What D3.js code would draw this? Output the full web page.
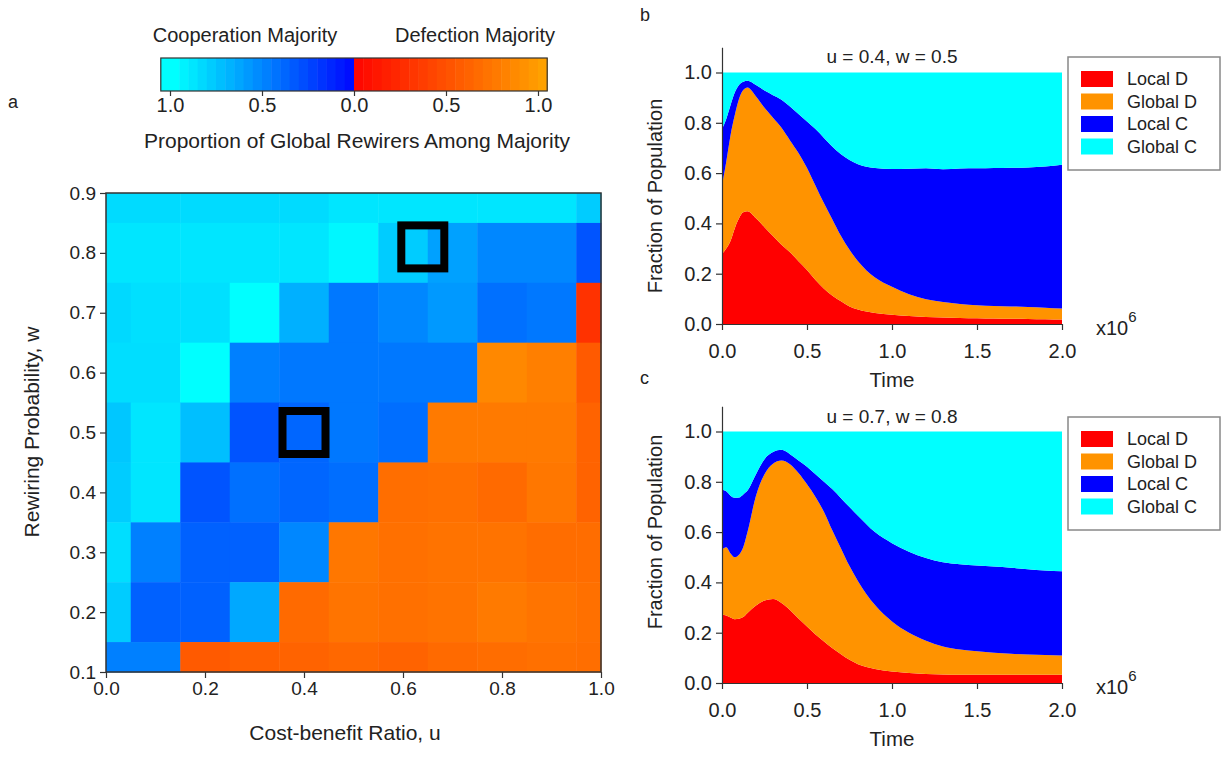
<!DOCTYPE html>
<html>
<head>
<meta charset="utf-8">
<script src="https://cdn.jsdelivr.net/npm/d3@7"></script>
<style>
body { margin: 0; background: #fff; }
svg { display: block; }
</style>
</head>
<body>
<script>
const width = 1231
const height = 761
const font = '"Liberation Sans", Arial, sans-serif'
const ink = '#222'

// ---- panel a: heatmap data ----
const uValues = [0, 0.1, 0.2, 0.3, 0.4, 0.5, 0.6, 0.7, 0.8, 0.9, 1.0]
const wValues = [0.9, 0.8, 0.7, 0.6, 0.5, 0.4, 0.3, 0.2, 0.1]
// proportion of global rewirers among majority; negative = cooperation majority, positive = defection majority
const majorityGrid = [
  [-0.86, -0.86, -0.86, -0.86, -0.86, -0.9, -0.9, -0.9, -0.9, -0.9, -0.8],
  [-0.9, -0.9, -0.9, -0.9, -0.9, -0.97, -0.8, -0.63, -0.53, -0.53, -0.33],
  [-0.85, -0.88, -0.88, -1.0, -0.69, -0.47, -0.53, -0.6, -0.44, -0.47, 0.33],
  [-0.87, -0.87, -1.0, -0.5, -0.47, -0.47, -0.47, -0.47, 0.89, 0.83, 0.59],
  [-0.78, -0.9, -0.75, -0.33, -0.4, -0.47, -0.43, 0.8, 0.8, 0.8, 0.65],
  [-0.8, -0.9, -0.33, -0.44, -0.4, -0.43, 0.72, 0.73, 0.69, 0.78, 0.65],
  [-0.87, -0.5, -0.38, -0.38, -0.53, 0.78, 0.73, 0.75, 0.75, 0.71, 0.71],
  [-0.8, -0.38, -0.38, -0.66, 0.69, 0.76, 0.73, 0.75, 0.8, 0.76, 0.73],
  [-0.5, -0.5, 0.59, 0.63, 0.65, 0.68, 0.65, 0.69, 0.71, 0.73, 0.72]
]
const markedCells = [{u: 0.4, w: 0.5}, {u: 0.64, w: 0.81}]
const colorbarTicks = [-1, -0.5, 0, 0.5, 1]

// ---- panels b, c: stacked fractions ----
const layerNames = ['Local D', 'Global D', 'Local C', 'Global C']
const layerColors = ['#ff0000', '#ff9300', '#0000ff', '#00ffff']
const timeSteps = [0, 0.025, 0.05, 0.075, 0.1, 0.125, 0.15, 0.2, 0.25, 0.3, 0.35, 0.4, 0.45, 0.5, 0.55, 0.6, 0.65, 0.7, 0.75, 0.8, 0.9, 1.0, 1.1, 1.2, 1.3, 1.4, 1.5, 1.6, 1.7, 1.8, 1.9, 2.0]

const localD_b = [0.278, 0.30, 0.33, 0.38, 0.42, 0.444, 0.448, 0.42, 0.385, 0.35, 0.315, 0.285, 0.25, 0.215, 0.175, 0.14, 0.112, 0.09, 0.07, 0.058, 0.044, 0.037, 0.032, 0.028, 0.026, 0.024, 0.023, 0.022, 0.021, 0.02, 0.019, 0.018]
const globalD_b = [0.272, 0.345, 0.42, 0.45, 0.475, 0.486, 0.492, 0.485, 0.475, 0.47, 0.465, 0.445, 0.43, 0.405, 0.375, 0.34, 0.303, 0.26, 0.225, 0.192, 0.141, 0.111, 0.086, 0.07, 0.061, 0.056, 0.052, 0.05, 0.049, 0.048, 0.046, 0.044]
const localC_b = [0.225, 0.17, 0.12, 0.09, 0.055, 0.033, 0.027, 0.045, 0.068, 0.09, 0.112, 0.135, 0.155, 0.185, 0.225, 0.26, 0.29, 0.325, 0.357, 0.385, 0.435, 0.468, 0.499, 0.521, 0.528, 0.538, 0.544, 0.548, 0.551, 0.554, 0.561, 0.571]
const globalC_b = [0.225, 0.185, 0.13, 0.08, 0.05, 0.037, 0.033, 0.05, 0.072, 0.09, 0.108, 0.135, 0.165, 0.195, 0.225, 0.26, 0.295, 0.325, 0.348, 0.365, 0.38, 0.384, 0.383, 0.381, 0.385, 0.382, 0.381, 0.38, 0.379, 0.378, 0.374, 0.367]

const localD_c = [0.272, 0.268, 0.26, 0.253, 0.255, 0.262, 0.278, 0.308, 0.328, 0.334, 0.318, 0.29, 0.256, 0.225, 0.193, 0.165, 0.138, 0.114, 0.092, 0.075, 0.056, 0.046, 0.04, 0.036, 0.034, 0.033, 0.033, 0.033, 0.033, 0.033, 0.033, 0.033]
const globalD_c = [0.258, 0.272, 0.255, 0.247, 0.255, 0.278, 0.322, 0.437, 0.502, 0.538, 0.567, 0.58, 0.579, 0.565, 0.547, 0.515, 0.467, 0.421, 0.373, 0.33, 0.254, 0.199, 0.16, 0.132, 0.111, 0.1, 0.093, 0.087, 0.083, 0.08, 0.078, 0.076]
const localC_c = [0.238, 0.222, 0.23, 0.237, 0.228, 0.21, 0.165, 0.085, 0.06, 0.046, 0.042, 0.04, 0.05, 0.07, 0.09, 0.12, 0.165, 0.2, 0.235, 0.26, 0.29, 0.311, 0.322, 0.329, 0.335, 0.339, 0.341, 0.343, 0.342, 0.339, 0.336, 0.335]
const globalC_c = [0.232, 0.238, 0.255, 0.263, 0.262, 0.25, 0.235, 0.17, 0.11, 0.082, 0.073, 0.09, 0.115, 0.14, 0.17, 0.2, 0.23, 0.265, 0.3, 0.335, 0.4, 0.444, 0.478, 0.503, 0.52, 0.528, 0.533, 0.537, 0.542, 0.548, 0.553, 0.556]

const svg = d3.select('body')
  .append('svg')
  .attr('width', width)
  .attr('height', height)
  .attr('font-family', font)

const coopColor = d3.interpolateRgb('#0000ff', '#00ffff')
const defColor = d3.interpolateRgb('#ff0000', '#ff9900')
const cellColor = v => v < 0 ? coopColor(-v) : defColor(v)

function styleAxis(g, size) {
  g.attr('font-family', font)
  g.selectAll('text').attr('font-size', size).attr('fill', ink)
  g.selectAll('line').attr('stroke', '#333').attr('stroke-width', 1.2)
  g.select('.domain').attr('stroke', '#333').attr('stroke-width', 1.2)
}

function label(text, x, y, size, anchor = 'middle') {
  return svg.append('text').text(text)
    .attr('x', x).attr('y', y)
    .attr('text-anchor', anchor)
    .attr('font-size', size)
    .attr('fill', ink)
}

// ---- colorbar ----
const cbX = d3.scaleLinear().domain([-1, 1]).range([170, 538])
const cbTop = 58, cbBottom = 91
const cbSteps = d3.range(-21, 21).map(i => i * 0.05)

svg.append('g').selectAll('rect')
  .data(cbSteps)
  .join('rect')
  .attr('x', d => cbX(d))
  .attr('y', cbTop)
  .attr('width', cbX(0.05) - cbX(0) + 0.5)
  .attr('height', cbBottom - cbTop)
  .attr('fill', d => cellColor(d < 0 ? d : d + 0.05))

svg.append('rect')
  .attr('x', cbX(-1.05)).attr('y', cbTop)
  .attr('width', cbX(1.05) - cbX(-1.05)).attr('height', cbBottom - cbTop)
  .attr('fill', 'none').attr('stroke', '#333').attr('stroke-width', 1.2)

svg.append('g')
  .attr('transform', `translate(0,${cbBottom})`)
  .call(d3.axisBottom(cbX).tickValues(colorbarTicks).tickFormat(d => Math.abs(d).toFixed(1)).tickSize(5).tickSizeOuter(0).tickPadding(2))
  .call(g => g.select('.domain').remove())
  .call(g => styleAxis(g, 20))

label('Cooperation Majority', 245, 42, 20)
label('Defection Majority', 475, 42, 20)
label('Proportion of Global Rewirers Among Majority', 357, 148, 21)

// ---- panel a heatmap ----
const hx = d3.scaleLinear().domain([0, 1]).range([106, 601])
const hy = d3.scaleLinear().domain([0.1, 0.9]).range([672, 193])

const cells = []
wValues.forEach((w, r) => uValues.forEach((u, c) => cells.push({u, w, v: majorityGrid[r][c]})))

svg.append('g').selectAll('rect')
  .data(cells)
  .join('rect')
  .attr('x', d => hx(Math.max(0, d.u - 0.05)))
  .attr('y', d => hy(Math.min(0.9, d.w + 0.05)))
  .attr('width', d => hx(Math.min(1, d.u + 0.05)) - hx(Math.max(0, d.u - 0.05)) + 0.5)
  .attr('height', d => hy(Math.max(0.1, d.w - 0.05)) - hy(Math.min(0.9, d.w + 0.05)) + 0.5)
  .attr('fill', d => cellColor(d.v))

svg.append('g').selectAll('rect')
  .data(markedCells)
  .join('rect')
  .attr('x', d => hx(d.u) - 21.5)
  .attr('y', d => hy(d.w) - 21.5)
  .attr('width', 43)
  .attr('height', 43)
  .attr('fill', 'none')
  .attr('stroke', '#000')
  .attr('stroke-width', 8)

svg.append('rect')
  .attr('x', hx(0)).attr('y', hy(0.9))
  .attr('width', hx(1) - hx(0)).attr('height', hy(0.1) - hy(0.9))
  .attr('fill', 'none').attr('stroke', '#333').attr('stroke-width', 1.5)

svg.append('g')
  .attr('transform', `translate(0,${hy(0.1)})`)
  .call(d3.axisBottom(hx).tickValues([0, 0.2, 0.4, 0.6, 0.8, 1]).tickFormat(d3.format('.1f')).tickSize(6).tickSizeOuter(0).tickPadding(4))
  .call(g => g.select('.domain').remove())
  .call(g => styleAxis(g, 19))

svg.append('g')
  .attr('transform', `translate(${hx(0)},0)`)
  .call(d3.axisLeft(hy).tickValues(wValues).tickFormat(d3.format('.1f')).tickSize(6).tickSizeOuter(0).tickPadding(4))
  .call(g => g.select('.domain').remove())
  .call(g => styleAxis(g, 19))

label('Cost-benefit Ratio, u', 345, 740, 21)
svg.append('text').text('Rewiring Probability, w')
  .attr('transform', 'translate(39,432) rotate(-90)').attr('text-anchor', 'middle').attr('font-size', 21).attr('fill', ink)
label('a', 8, 108, 18, 'start')

// ---- panels b and c ----
const tx = d3.scaleLinear().domain([0, 2]).range([722, 1062])

function drawPanel(p) {
  const y = d3.scaleLinear().domain([0, 1.1]).range([p.base, p.base - 1.1 * 251.5])
  const rows = timeSteps.map((t, i) => {
    const row = {t}
    layerNames.forEach((k, j) => { row[k] = p.layers[j][i] })
    return row
  })
  const series = d3.stack().keys(layerNames)(rows)
  const area = d3.area()
    .x(d => tx(d.data.t))
    .y0(d => y(d[0]))
    .y1(d => y(d[1]))
    .curve(d3.curveMonotoneX)

  svg.append('g').selectAll('path')
    .data(series)
    .join('path')
    .attr('d', area)
    .attr('fill', (d, i) => layerColors[i])

  svg.append('g')
    .attr('transform', `translate(0,${p.base})`)
    .call(d3.axisBottom(tx).tickValues([0, 0.5, 1, 1.5, 2]).tickFormat(d3.format('.1f')).tickSize(6).tickSizeOuter(0).tickPadding(14))
    .call(g => styleAxis(g, 20))

  svg.append('g')
    .attr('transform', `translate(${tx(0)},0)`)
    .call(d3.axisLeft(y).tickValues([0, 0.2, 0.4, 0.6, 0.8, 1]).tickFormat(d3.format('.1f')).tickSize(6).tickSizeOuter(0).tickPadding(4))
    .call(g => styleAxis(g, 20))

  svg.append('text').text(p.title)
    .attr('x', tx(1)).attr('y', p.titleY).attr('text-anchor', 'middle')
    .attr('dominant-baseline', 'central').attr('font-size', 19).attr('fill', ink)

  label('Time', tx(1), p.base + 63, 20.5)

  svg.append('text').text('Fraction of Population')
    .attr('transform', `translate(662,${p.labelY}) rotate(-90)`)
    .attr('text-anchor', 'middle').attr('font-size', 20).attr('fill', ink)

  const exp = svg.append('text').attr('x', 1096).attr('y', p.base + 11).attr('font-size', 20).attr('fill', ink)
  exp.append('tspan').text('x10')
  exp.append('tspan').text('6').attr('dy', -13).attr('font-size', 15)

  label(p.letter, 640, p.letterY, 18, 'start')

  // legend
  const legend = svg.append('g').attr('transform', `translate(1068,${p.legendTop})`)
  legend.append('rect')
    .attr('width', 152).attr('height', 113)
    .attr('fill', '#fff').attr('stroke', '#888').attr('stroke-width', 1.5)
  const item = legend.selectAll('g')
    .data(layerNames)
    .join('g')
    .attr('transform', (d, i) => `translate(0,${22 + i * 22.5})`)
  item.append('rect')
    .attr('x', 13).attr('y', -8).attr('width', 32).attr('height', 16)
    .attr('fill', (d, i) => layerColors[i])
  item.append('text').text(d => d)
    .attr('x', 59).attr('dominant-baseline', 'central').attr('font-size', 18).attr('fill', ink)
}

drawPanel({
  base: 324, title: 'u = 0.4, w = 0.5', titleY: 56, labelY: 196, legendTop: 57,
  letter: 'b', letterY: 21,
  layers: [localD_b, globalD_b, localC_b, globalC_b]
})

drawPanel({
  base: 683, title: 'u = 0.7, w = 0.8', titleY: 416, labelY: 532, legendTop: 417,
  letter: 'c', letterY: 384,
  layers: [localD_c, globalD_c, localC_c, globalC_c]
})
</script>
</body>
</html>
